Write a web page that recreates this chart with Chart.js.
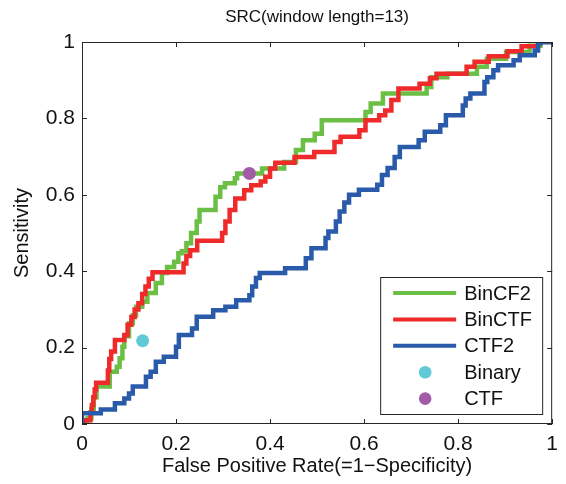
<!DOCTYPE html>
<html>
<head>
<meta charset="utf-8">
<title>SRC ROC</title>
<script src="https://cdn.jsdelivr.net/npm/chart.js@4.4.0/dist/chart.umd.min.js"></script>
<style>
  html, body { margin: 0; padding: 0; background: #fff; }
</style>
</head>
<body>
<canvas id="roc" width="566" height="484"></canvas>
<script>
// ROC curves: each point starts a flat run (horizontal first, then the jump)
const binCF2Fpr = [0, 0.012, 0.02, 0.025, 0.031, 0.059, 0.074, 0.08, 0.086, 0.09, 0.1, 0.108, 0.115, 0.128, 0.139, 0.157, 0.17, 0.181, 0.196, 0.205, 0.212, 0.222, 0.232, 0.244, 0.25, 0.284, 0.294, 0.304, 0.325, 0.33, 0.383, 0.43, 0.455, 0.47, 0.495, 0.51, 0.603, 0.614, 0.64, 0.733, 0.743, 0.777, 0.84, 0.861, 0.902, 0.952, 0.975, 1];
const binCF2Tpr = [0, 0.015, 0.04, 0.07, 0.098, 0.137, 0.15, 0.172, 0.202, 0.23, 0.264, 0.285, 0.307, 0.32, 0.343, 0.369, 0.395, 0.411, 0.425, 0.447, 0.452, 0.473, 0.5, 0.53, 0.56, 0.595, 0.62, 0.63, 0.643, 0.656, 0.669, 0.686, 0.717, 0.743, 0.76, 0.795, 0.817, 0.839, 0.865, 0.882, 0.908, 0.917, 0.935, 0.956, 0.974, 0.99, 1, 1];

const binCTFFpr = [0, 0.005, 0.018, 0.021, 0.024, 0.027, 0.03, 0.055, 0.058, 0.062, 0.07, 0.09, 0.097, 0.105, 0.112, 0.12, 0.128, 0.135, 0.142, 0.15, 0.216, 0.222, 0.23, 0.245, 0.298, 0.305, 0.314, 0.326, 0.345, 0.36, 0.38, 0.39, 0.4, 0.411, 0.452, 0.494, 0.537, 0.55, 0.59, 0.603, 0.632, 0.645, 0.658, 0.673, 0.718, 0.74, 0.754, 0.818, 0.835, 0.865, 0.905, 0.935, 0.97, 1];
const binCTFTpr = [0, 0.01, 0.03, 0.05, 0.07, 0.09, 0.108, 0.14, 0.17, 0.19, 0.22, 0.233, 0.26, 0.28, 0.3, 0.316, 0.34, 0.36, 0.38, 0.397, 0.42, 0.44, 0.455, 0.48, 0.5, 0.53, 0.56, 0.59, 0.612, 0.625, 0.635, 0.647, 0.669, 0.684, 0.699, 0.712, 0.738, 0.752, 0.769, 0.795, 0.808, 0.821, 0.848, 0.878, 0.891, 0.905, 0.917, 0.935, 0.948, 0.963, 0.976, 0.989, 1, 1];

const ctf2Fpr = [0, 0, 0.04, 0.07, 0.09, 0.1, 0.108, 0.136, 0.146, 0.157, 0.174, 0.2, 0.206, 0.234, 0.244, 0.279, 0.305, 0.328, 0.356, 0.362, 0.37, 0.378, 0.432, 0.476, 0.488, 0.518, 0.524, 0.54, 0.548, 0.558, 0.568, 0.589, 0.628, 0.638, 0.65, 0.665, 0.676, 0.716, 0.729, 0.762, 0.774, 0.81, 0.816, 0.826, 0.856, 0.862, 0.875, 0.885, 0.918, 0.931, 0.963, 0.97, 0.975, 1];
const ctf2Tpr = [0, 0.028, 0.038, 0.054, 0.067, 0.08, 0.098, 0.124, 0.137, 0.163, 0.176, 0.202, 0.233, 0.25, 0.281, 0.298, 0.307, 0.324, 0.337, 0.36, 0.382, 0.395, 0.408, 0.434, 0.46, 0.487, 0.504, 0.53, 0.556, 0.58, 0.6, 0.613, 0.626, 0.652, 0.67, 0.699, 0.725, 0.743, 0.765, 0.782, 0.808, 0.834, 0.852, 0.865, 0.895, 0.908, 0.926, 0.939, 0.952, 0.965, 0.978, 0.996, 1, 1];

// single operating points
const binaryPoint = [0.129, 0.218];
const ctfPoint = [0.356, 0.656];

const xTicks = [0, 0.2, 0.4, 0.6, 0.8, 1];
const xTickLabels = ["0", "0.2", "0.4", "0.6", "0.8", "1"];
const yTicks = [0, 0.2, 0.4, 0.6, 0.8, 1];
const yTickLabels = ["0", "0.2", "0.4", "0.6", "0.8", "1"];

const FONT = "'Liberation Sans', Arial, Helvetica, sans-serif";

function pts(xs, ys) {
  return xs.map((x, i) => ({ x: x, y: ys[i] }));
}

// MATLAB style box: frame, inward ticks, title and legend inside the axes
const matlabBox = {
  id: "matlabBox",
  afterDatasetsDraw(chart) {
    const ctx = chart.ctx;
    const a = chart.chartArea;
    const xs = chart.scales.x, ys = chart.scales.y;
    ctx.save();
    ctx.strokeStyle = "#262626";
    ctx.lineWidth = 1;
    ctx.strokeRect(a.left + 0.5, a.top + 0.5, a.right - a.left - 1, a.bottom - a.top - 1);
    ctx.beginPath();
    xTicks.forEach(v => {
      const p = Math.round(xs.getPixelForValue(v)) + 0.5;
      ctx.moveTo(p, a.bottom); ctx.lineTo(p, a.bottom - 5);
      ctx.moveTo(p, a.top); ctx.lineTo(p, a.top + 5);
    });
    yTicks.forEach(v => {
      const p = Math.round(ys.getPixelForValue(v)) + 0.5;
      ctx.moveTo(a.left, p); ctx.lineTo(a.left + 5, p);
      ctx.moveTo(a.right, p); ctx.lineTo(a.right - 5, p);
    });
    ctx.stroke();

    // legend
    const w = 162, h = 137;
    const L = a.right - 10 - w, T = a.bottom - 10 - h;
    ctx.fillStyle = "#fff";
    ctx.fillRect(L, T, w, h);
    ctx.strokeStyle = "#262626";
    ctx.strokeRect(L + 0.5, T + 0.5, w, h);
    ctx.font = "20px " + FONT;
    ctx.textBaseline = "middle";
    ctx.textAlign = "left";
    chart.data.datasets.forEach((ds, i) => {
      const y = T + 16 + i * 26.4;
      if (ds.showLine) {
        ctx.strokeStyle = ds.borderColor;
        ctx.lineWidth = 4;
        ctx.beginPath();
        ctx.moveTo(L + 13, y); ctx.lineTo(L + 76, y);
        ctx.stroke();
      } else {
        ctx.fillStyle = ds.backgroundColor;
        ctx.beginPath();
        ctx.arc(L + 45, y, 6.3, 0, Math.PI * 2);
        ctx.fill();
      }
      ctx.fillStyle = "#111";
      ctx.fillText(ds.label, L + 84, y + 1);
    });

    // title centred over the axes
    ctx.fillStyle = "#111";
    ctx.font = "17px " + FONT;
    ctx.textAlign = "center";
    ctx.fillText("SRC(window length=13)", (a.left + a.right) / 2, 17);
    ctx.restore();
  }
};

const ctx = document.getElementById("roc").getContext("2d");
const chart = new Chart(ctx, {
  type: "scatter",
  data: {
    datasets: [
      {
        label: "BinCF2",
        data: pts(binCF2Fpr, binCF2Tpr),
        showLine: true,
        stepped: "before",
        borderColor: "#6cbf45",
        backgroundColor: "#6cbf45",
        borderWidth: 4.5,
        pointRadius: 0,
        order: 3,
      },
      {
        label: "BinCTF",
        data: pts(binCTFFpr, binCTFTpr),
        showLine: true,
        stepped: "before",
        borderColor: "#ee2a2a",
        backgroundColor: "#ee2a2a",
        borderWidth: 4.5,
        pointRadius: 0,
        order: 2,
      },
      {
        label: "CTF2",
        data: pts(ctf2Fpr, ctf2Tpr),
        showLine: true,
        stepped: "before",
        borderColor: "#2a5aaa",
        backgroundColor: "#2a5aaa",
        borderWidth: 4.5,
        pointRadius: 0,
        order: 1,
      },
      {
        label: "Binary",
        data: [{ x: binaryPoint[0], y: binaryPoint[1] }],
        showLine: false,
        backgroundColor: "#62c9d8",
        borderWidth: 0,
        pointRadius: 6.5,
        order: 0,
      },
      {
        label: "CTF",
        data: [{ x: ctfPoint[0], y: ctfPoint[1] }],
        showLine: false,
        backgroundColor: "#a35ba8",
        borderWidth: 0,
        pointRadius: 6.5,
        order: 0,
      },
    ],
  },
  options: {
    responsive: false,
    animation: false,
    devicePixelRatio: 1,
    layout: { padding: { top: 42, right: 6, left: 0, bottom: 0 } },
    plugins: {
      legend: { display: false },
      title: { display: false },
      tooltip: { enabled: false },
    },
    scales: {
      x: {
        type: "linear",
        min: 0,
        max: 1,
        afterBuildTicks: s => { s.ticks = xTicks.map(v => ({ value: v })); },
        afterFit: s => { s.height = 60; },
        ticks: {
          callback: (v, i) => xTickLabels[i],
          font: { family: FONT, size: 21 },
          color: "#111",
          padding: 8,
          maxRotation: 0,
        },
        grid: { display: false, drawTicks: false },
        border: { display: false },
        title: {
          display: true,
          text: "False Positive Rate(=1\u2212Specificity)",
          font: { family: FONT, size: 20 },
          color: "#111",
          padding: { top: 0, bottom: 6 },
        },
      },
      y: {
        type: "linear",
        min: 0,
        max: 1,
        afterBuildTicks: s => { s.ticks = yTicks.map(v => ({ value: v })); },
        afterFit: s => { s.width = 82; },
        ticks: {
          callback: (v, i) => yTickLabels[i],
          font: { family: FONT, size: 21 },
          color: "#111",
          padding: 7,
        },
        grid: { display: false, drawTicks: false },
        border: { display: false },
        title: {
          display: true,
          text: "Sensitivity",
          font: { family: FONT, size: 20 },
          color: "#111",
          padding: { top: 10, bottom: 0 },
        },
      },
    },
  },
  plugins: [matlabBox],
});
</script>
</body>
</html>
